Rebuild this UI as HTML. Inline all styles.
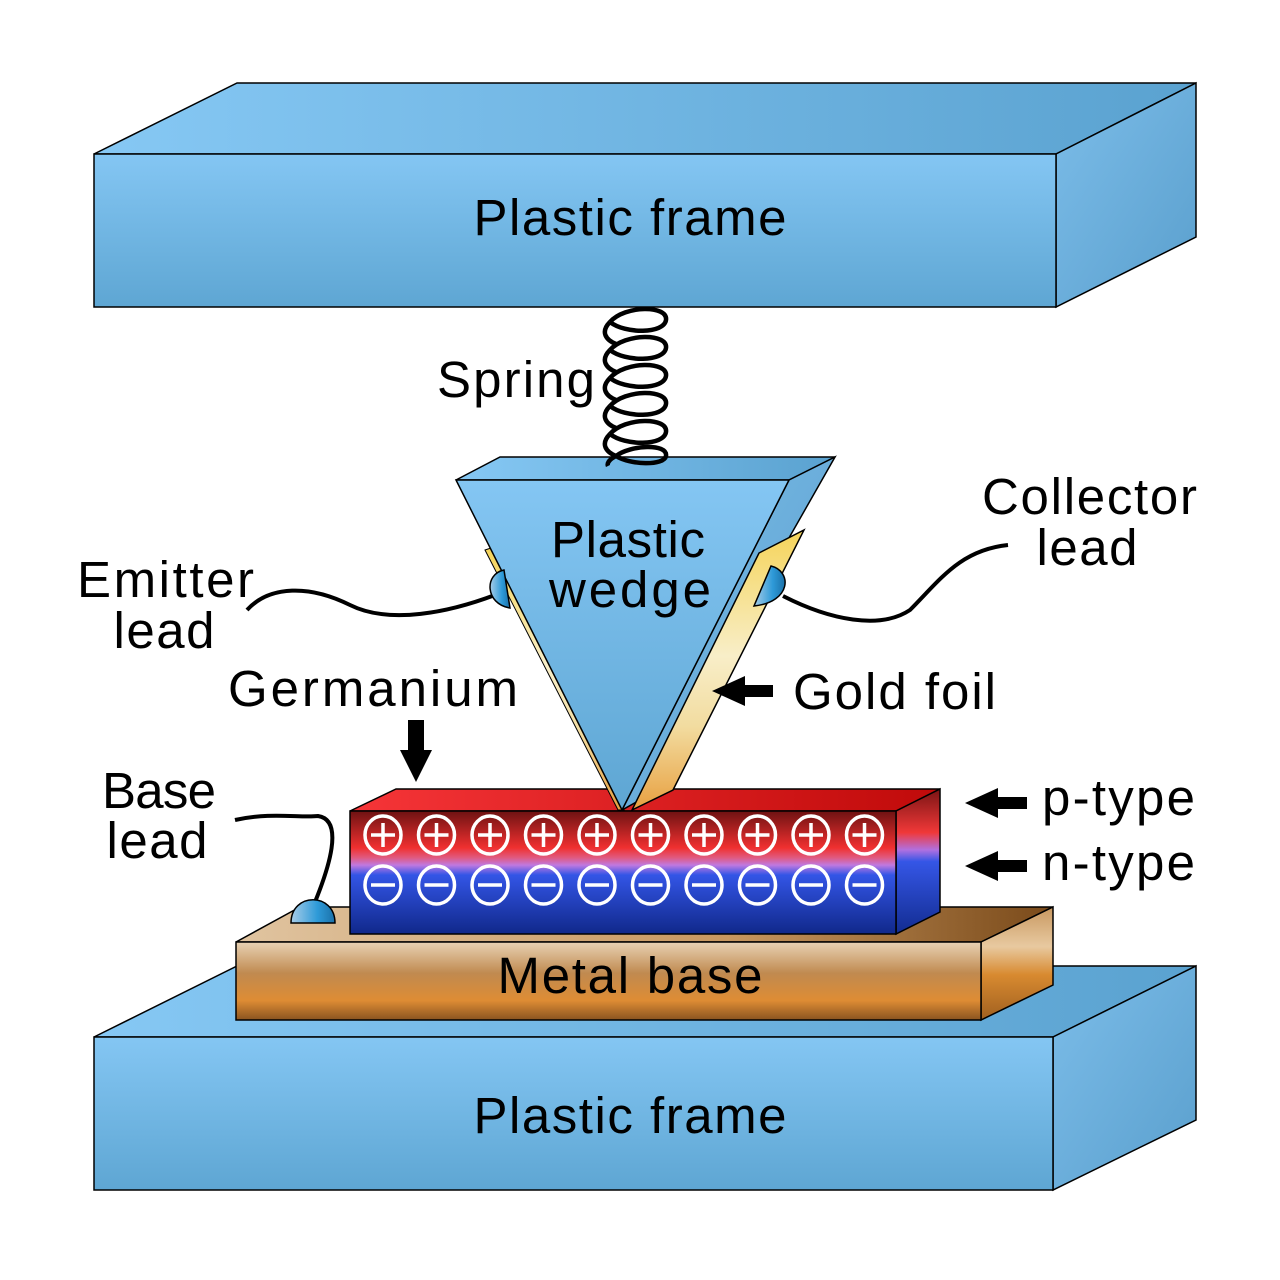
<!DOCTYPE html>
<html><head><meta charset="utf-8"><style>html,body{margin:0;padding:0;background:#fff}svg{display:block}text{font-family:"Liberation Sans",sans-serif;fill:#000}</style></head><body>
<svg width="1280" height="1280" viewBox="0 0 1280 1280" xmlns="http://www.w3.org/2000/svg">
<defs>
<linearGradient id="bl" x1="0" y1="0" x2="1" y2="0"><stop offset="0" stop-color="#86c8f4"/><stop offset="1" stop-color="#5aa2d0"/></linearGradient>
<linearGradient id="blv" x1="0" y1="0" x2="0" y2="1"><stop offset="0" stop-color="#84c6f3"/><stop offset="1" stop-color="#5ea6d3"/></linearGradient>
<linearGradient id="blr" x1="0" y1="0" x2="1" y2="1"><stop offset="0" stop-color="#7cbde9"/><stop offset="1" stop-color="#5a9fcd"/></linearGradient>
<linearGradient id="red" x1="0" y1="0" x2="1" y2="0"><stop offset="0" stop-color="#f63538"/><stop offset="1" stop-color="#c00a0a"/></linearGradient>
<linearGradient id="pn" x1="0" y1="0" x2="0" y2="1"><stop offset="0" stop-color="#6e1212"/><stop offset="0.3" stop-color="#f03030"/><stop offset="0.38" stop-color="#e05a80"/><stop offset="0.44" stop-color="#c078e0"/><stop offset="0.52" stop-color="#3355e6"/><stop offset="1" stop-color="#10288a"/></linearGradient>
<linearGradient id="pnr" x1="0" y1="0" x2="0" y2="1"><stop offset="0" stop-color="#7a1414"/><stop offset="0.3" stop-color="#f03838"/><stop offset="0.42" stop-color="#b070e0"/><stop offset="0.5" stop-color="#3556e6"/><stop offset="1" stop-color="#122c90"/></linearGradient>
<linearGradient id="metal" x1="0" y1="0" x2="0" y2="1"><stop offset="0" stop-color="#e8d2b4"/><stop offset="0.4" stop-color="#c08a50"/><stop offset="0.75" stop-color="#de8c34"/><stop offset="1" stop-color="#8a5420"/></linearGradient>
<linearGradient id="metalt" x1="0" y1="0" x2="1" y2="0"><stop offset="0" stop-color="#e0c4a0"/><stop offset="0.6" stop-color="#c89860"/><stop offset="1" stop-color="#7a4a1a"/></linearGradient>
<linearGradient id="metalr" x1="0" y1="0" x2="0" y2="1"><stop offset="0" stop-color="#c89860"/><stop offset="0.35" stop-color="#e8c9a0"/><stop offset="0.6" stop-color="#d88a30"/><stop offset="1" stop-color="#a06020"/></linearGradient>
<linearGradient id="gold" x1="0" y1="0" x2="0" y2="1"><stop offset="0" stop-color="#f5d45a"/><stop offset="0.45" stop-color="#f8eec8"/><stop offset="0.7" stop-color="#f2dca0"/><stop offset="1" stop-color="#e8a040"/></linearGradient>
<linearGradient id="dome" x1="0" y1="0" x2="1" y2="0"><stop offset="0" stop-color="#a8cde8"/><stop offset="0.6" stop-color="#2e9ad8"/><stop offset="1" stop-color="#1a70a8"/></linearGradient>
</defs>
<polygon points="94,154 237,83 1196,83 1056,154" fill="url(#bl)" stroke="#000" stroke-width="1.5"/>
<polygon points="1056,154 1196,83 1196,237 1056,307" fill="url(#blr)" stroke="#000" stroke-width="1.5"/>
<rect x="94" y="154" width="962" height="153" fill="url(#blv)" stroke="#000" stroke-width="1.5"/>
<text x="630" y="235" font-size="51" text-anchor="middle" textLength="313">Plastic frame</text>
<polygon points="94,1037 237,966 1196,966 1053,1037" fill="url(#bl)" stroke="#000" stroke-width="1.5"/>
<polygon points="1053,1037 1196,966 1196,1120 1053,1190" fill="url(#blr)" stroke="#000" stroke-width="1.5"/>
<rect x="94" y="1037" width="959" height="153" fill="url(#blv)" stroke="#000" stroke-width="1.5"/>
<text x="630" y="1133" font-size="51" text-anchor="middle" textLength="313">Plastic frame</text>
<polygon points="236,942 300,907 1053,907 981,942" fill="url(#metalt)" stroke="#000" stroke-width="1.5"/>
<polygon points="981,942 1053,907 1053,985 981,1020" fill="url(#metalr)" stroke="#000" stroke-width="1.5"/>
<rect x="236" y="942" width="745" height="78" fill="url(#metal)" stroke="#000" stroke-width="1.5"/>
<text x="630" y="993" font-size="51" text-anchor="middle" textLength="265">Metal base</text>
<path d="M235,820 C270,812 300,818 318,816 C345,820 328,870 315,902" fill="none" stroke="#000" stroke-width="4"/>
<path d="M291,923 C291,892 335,892 335,923 Z" fill="url(#dome)" stroke="#000" stroke-width="1.5"/>
<polygon points="350,811 396,789 940,789 896,811" fill="url(#red)" stroke="#000" stroke-width="1.5"/>
<polygon points="896,811 940,789 940,912 896,934" fill="url(#pnr)" stroke="#000" stroke-width="1.5"/>
<rect x="350" y="811" width="546" height="123" fill="url(#pn)" stroke="#000" stroke-width="1.5"/>
<g fill="none" stroke="#fff" stroke-width="3.5">
<g id="pr"><ellipse cx="383" cy="835" rx="18" ry="19"/><path d="M371,835h24M383,823v24"/></g>
<use href="#pr" x="53.5"/><use href="#pr" x="107"/><use href="#pr" x="160.5"/><use href="#pr" x="214"/><use href="#pr" x="267.5"/><use href="#pr" x="321"/><use href="#pr" x="374.5"/><use href="#pr" x="428"/><use href="#pr" x="481.5"/>
<g id="nr"><ellipse cx="383" cy="885" rx="18" ry="19"/><path d="M371,885h24"/></g>
<use href="#nr" x="53.5"/><use href="#nr" x="107"/><use href="#nr" x="160.5"/><use href="#nr" x="214"/><use href="#nr" x="267.5"/><use href="#nr" x="321"/><use href="#nr" x="374.5"/><use href="#nr" x="428"/><use href="#nr" x="481.5"/>
</g>
<polygon points="456,480 500,457 835,457 789,480" fill="url(#bl)" stroke="#000" stroke-width="1.5"/>
<polygon points="789,480 835,457 640,800 622,810" fill="url(#blr)" stroke="#000" stroke-width="1.5"/>
<polygon points="485,550 491,548 624,810 618,810" fill="url(#gold)" stroke="#000" stroke-width="1"/>
<polygon points="456,480 789,480 622,810" fill="url(#blv)" stroke="#000" stroke-width="1.5"/>
<polygon points="759,553 804,530 673,790 632,810" fill="url(#gold)" stroke="#000" stroke-width="1.5"/>
<g fill="none" stroke="#000" stroke-width="4.5">
<path d="M610,322 C625,305 668,305 666,320 C664,334 625,334 610,322"/>
<path d="M610,350 C625,333 668,333 666,348 C664,362 625,362 610,350"/>
<path d="M610,378 C625,361 668,361 666,376 C664,390 625,390 610,378"/>
<path d="M610,406 C625,389 668,389 666,404 C664,418 625,418 610,406"/>
<path d="M610,434 C625,417 668,417 666,432 C664,446 625,446 610,434"/>
<path d="M610,322 C600,332 606,340 616,344 M610,350 C600,360 606,368 616,372 M610,378 C600,388 606,396 616,400 M610,406 C600,416 606,424 616,428 M610,434 C600,444 606,452 616,456"/>
<path d="M616,456 C630,445 668,443 666,456 C664,466 630,465 616,456 M616,456 C608,460 607,464 608,466"/>
</g>
<path d="M247,610 C270,585 310,585 350,605 C390,625 450,612 495,595" fill="none" stroke="#000" stroke-width="4"/>
<path d="M504,570 C484,574 485,604 510,608 Z" fill="url(#dome)" stroke="#000" stroke-width="1.5"/>
<path d="M783,596 C830,620 880,630 910,610 C940,580 960,550 1008,545" fill="none" stroke="#000" stroke-width="4"/>
<path d="M771,566 C792,571 792,602 754,606 Z" fill="url(#dome)" stroke="#000" stroke-width="1.5"/>
<g fill="#000">
<polygon points="408,720 424,720 424,750 432,750 416,782 400,750 408,750"/>
<polygon points="712,691 745,676 745,685 773,685 773,697 745,697 745,706"/>
<polygon points="965,803 998,788 998,797 1027,797 1027,809 998,809 998,818"/>
<polygon points="965,866 998,851 998,860 1027,860 1027,872 998,872 998,881"/>
</g>
<text x="595" y="397" font-size="51" text-anchor="end" textLength="158">Spring</text>
<text x="628" y="557" font-size="51" text-anchor="middle" textLength="154">Plastic</text>
<text x="630" y="607" font-size="51" text-anchor="middle" textLength="162">wedge</text>
<text x="77" y="597" font-size="51" textLength="177">Emitter</text>
<text x="164" y="648" font-size="51" text-anchor="middle" textLength="101">lead</text>
<text x="982" y="514" font-size="51" textLength="215">Collector</text>
<text x="1087" y="565" font-size="51" text-anchor="middle" textLength="101">lead</text>
<text x="228" y="706" font-size="51" textLength="290">Germanium</text>
<text x="793" y="709" font-size="51" textLength="203">Gold foil</text>
<text x="1042" y="815" font-size="51" textLength="153">p-type</text>
<text x="1042" y="880" font-size="51" textLength="153">n-type</text>
<text x="102" y="808" font-size="51" textLength="114">Base</text>
<text x="157" y="858" font-size="51" text-anchor="middle" textLength="101">lead</text>
</svg>
</body></html>
